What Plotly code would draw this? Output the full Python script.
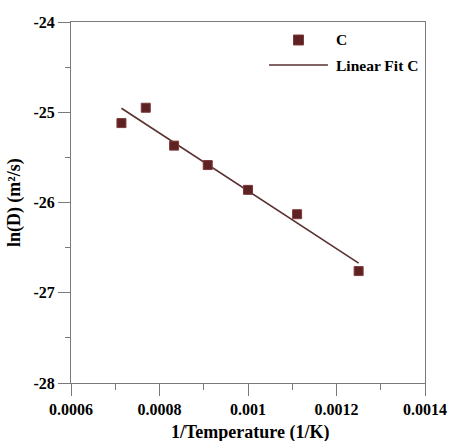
import numpy as np
import plotly.graph_objects as go

# Diffusion data: reciprocal temperature (1/K) and ln of diffusion coefficient
inv_temperature = [0.000714, 0.000769, 0.000833, 0.000909, 0.001, 0.001111, 0.00125]
ln_d = [-25.12, -24.95, -25.37, -25.585, -25.86, -26.13, -26.76]

x_ticks = [0.0006, 0.0008, 0.001, 0.0012, 0.0014]
x_tick_text = ["0.0006", "0.0008", "0.001", "0.0012", "0.0014"]
y_ticks = [-28, -27, -26, -25, -24]
y_tick_text = ["-28", "-27", "-26", "-25", "-24"]

W, H = 459, 441
L, R, T, B = 71, 27, 22, 58
FONT = "Liberation Serif"
MARKER_COLOR = "#5e2222"
MARKER_EDGE = "#7e3a3a"
LINE_COLOR = "#5a3030"
AXIS_COLOR = "#7a7a7a"

# Least-squares line through the points
slope, intercept = np.polyfit(inv_temperature, ln_d, 1)
fit_x = [min(inv_temperature), max(inv_temperature)]
fit_y = [slope * v + intercept for v in fit_x]

fig = go.Figure()
fig.add_trace(go.Scatter(
    x=fit_x, y=fit_y, mode="lines",
    line=dict(color=LINE_COLOR, width=1.6),
    name="Linear Fit C", showlegend=False,
))
fig.add_trace(go.Scatter(
    x=inv_temperature, y=ln_d, mode="markers",
    marker=dict(symbol="square", size=9, color=MARKER_COLOR,
                line=dict(color=MARKER_EDGE, width=1)),
    name="C", showlegend=False,
))

pw, ph = W - L - R, H - T - B


def px_x(px):
    return (px - L) / pw


def px_y(py):
    return (H - B - py) / ph


def bold(labels):
    return [f"<b>{s}</b>" for s in labels]


tick_font = dict(family=FONT, size=16, color="black")
title_font = dict(family=FONT, size=18, color="black")
legend_font = dict(family=FONT, size=15.5, color="black")

fig.update_layout(
    width=W, height=H,
    margin=dict(l=L, r=R, t=T, b=B),
    paper_bgcolor="white", plot_bgcolor="white",
    font=dict(family=FONT, size=14, color="black"),
    xaxis=dict(
        range=[0.0006, 0.0014], tickvals=x_ticks, ticktext=bold(x_tick_text),
        showgrid=False, zeroline=False,
        showline=True, linecolor=AXIS_COLOR, linewidth=1, mirror=True,
        ticks="outside", ticklen=12, tickcolor=AXIS_COLOR, tickwidth=1,
        tickfont=tick_font,
        minor=dict(dtick=0.0001, ticks="outside", ticklen=6,
                   tickcolor=AXIS_COLOR, tickwidth=1, showgrid=False),
    ),
    yaxis=dict(
        range=[-28, -24], tickvals=y_ticks, ticktext=bold(y_tick_text),
        showgrid=False, zeroline=False,
        showline=True, linecolor=AXIS_COLOR, linewidth=1, mirror=True,
        ticks="outside", ticklen=12, tickcolor=AXIS_COLOR, tickwidth=1,
        tickfont=tick_font,
        minor=dict(dtick=0.5, ticks="outside", ticklen=5,
                   tickcolor=AXIS_COLOR, tickwidth=1, showgrid=False),
    ),
)

# Axis titles
fig.add_annotation(
    text="<b>1/Temperature (1/K)</b>", xref="paper", yref="paper",
    x=px_x(254), y=px_y(432), xanchor="center", yanchor="middle",
    showarrow=False, font=title_font,
)
fig.add_annotation(
    text="<b>ln(D) (m²/s)</b>", xref="paper", yref="paper",
    x=px_x(13), y=px_y(203), xanchor="center", yanchor="middle",
    textangle=-90, showarrow=False, font=title_font,
)

# Legend drawn in the upper right of the plot area
fig.add_shape(
    type="rect", xref="paper", yref="paper",
    xsizemode="pixel", ysizemode="pixel",
    xanchor=px_x(303), yanchor=px_y(40),
    x0=-5, x1=5, y0=-5, y1=5,
    fillcolor=MARKER_COLOR, line=dict(color=MARKER_EDGE, width=1),
)
fig.add_shape(
    type="line", xref="paper", yref="paper",
    x0=px_x(273), x1=px_x(333), y0=px_y(65), y1=px_y(65),
    line=dict(color=LINE_COLOR, width=1.6),
)
fig.add_annotation(
    text="<b>C</b>", xref="paper", yref="paper",
    x=px_x(339), y=px_y(40), xanchor="left", yanchor="middle",
    showarrow=False, font=legend_font,
)
fig.add_annotation(
    text="<b>Linear Fit C</b>", xref="paper", yref="paper",
    x=px_x(339), y=px_y(65), xanchor="left", yanchor="middle",
    showarrow=False, font=legend_font,
)

fig.write_html("out.html")
